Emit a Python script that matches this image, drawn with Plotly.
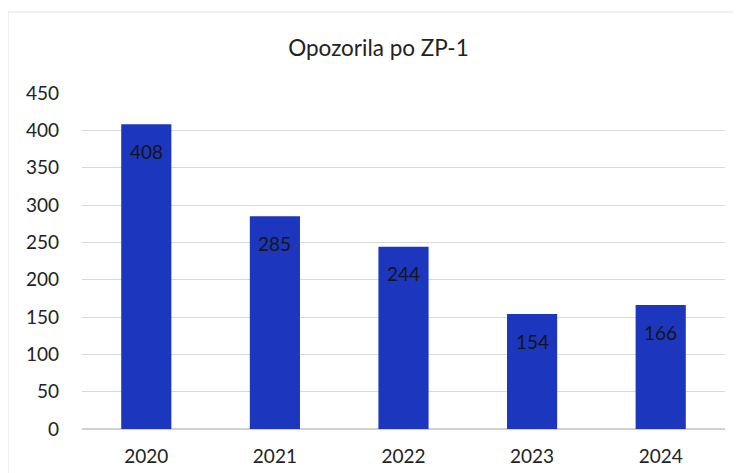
import plotly.graph_objects as go

years = ["2020", "2021", "2022", "2023", "2024"]
values = [408, 285, 244, 154, 166]
y_ticks = [0, 50, 100, 150, 200, 250, 300, 350, 400, 450]

fig = go.Figure()
fig.add_trace(go.Bar(
    x=years, y=values,
    marker=dict(color="#1c36bd", line=dict(width=0)),
    width=0.39,
    hoverinfo="x+y",
))
for i, v in enumerate(values):
    fig.add_annotation(x=i, y=v, xref="x", yref="y", text=str(v), showarrow=False,
                       yanchor="middle", yshift=-27,
                       font=dict(family="Lato", size=19, color="#151515"))
fig.update_layout(
    width=741, height=473,
    margin=dict(l=74, r=24, t=85, b=52),
    paper_bgcolor="white", plot_bgcolor="white",
    title=dict(text="Opozorila po ZP-1", x=0.5, xanchor="center", y=0.915, yanchor="middle",
               font=dict(family="Lato", size=22.5, color="#222222")),
    font=dict(family="Lato", size=19, color="#222222"),
    showlegend=False,
)
fig.update_xaxes(type="category", categoryorder="array", categoryarray=years,
                 range=[-0.5, len(years) - 0.5],
                 showgrid=False, showline=False, ticks="", ticklabelstandoff=14,
                 tickfont=dict(size=19))
fig.update_yaxes(range=[0, 450], tickvals=y_ticks, showgrid=True, gridcolor="#d9d9d9",
                 gridwidth=1, zeroline=True, zerolinecolor="#d0d0d0", showline=False,
                 ticks="", ticklabelstandoff=22, tickfont=dict(size=19))
fig.add_shape(type="rect", xref="paper", yref="paper", x0=-0.115, x1=1.025, y0=-0.2, y1=1.241,
              line=dict(color="#e2e2e2", width=1), layer="below")
fig.write_html("out.html")
